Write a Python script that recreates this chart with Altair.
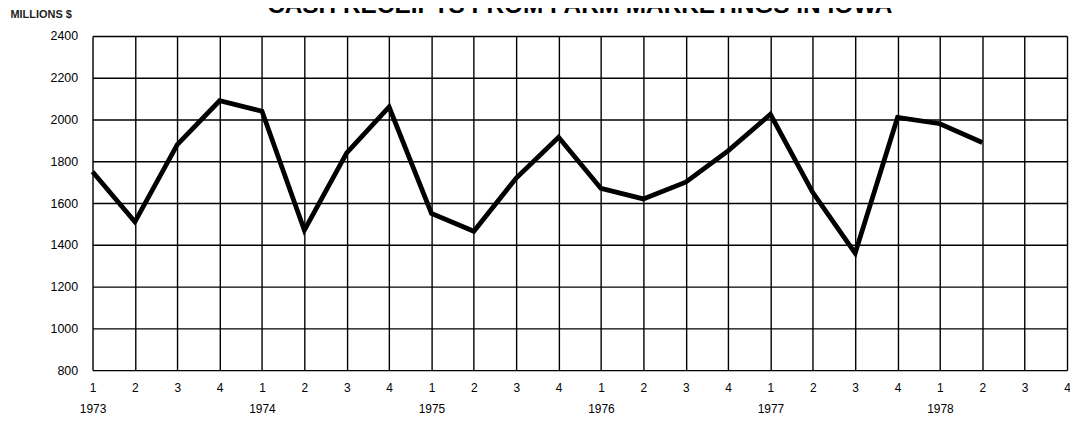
import json
import altair as alt
import pandas as pd

# Quarterly cash receipts (millions $), 1973 Q1 .. 1978 Q2
values = [1750, 1510, 1880, 2090,
          2040, 1470, 1840, 2060,
          1550, 1465, 1720, 1915,
          1670, 1620, 1700, 1850,
          2025, 1650, 1360, 2010,
          1980, 1890]
quarters = ["1", "2", "3", "4"] * 6
years = ["1973", "1974", "1975", "1976", "1977", "1978"]
y_ticks = [800, 1000, 1200, 1400, 1600, 1800, 2000, 2200, 2400]

df = pd.DataFrame({"idx": list(range(len(values))), "value": values})

xlabels = []
for i, q in enumerate(quarters):
    if i % 4 == 0:
        xlabels.append([q, years[i // 4]])
    else:
        xlabels.append(q)
label_expr = json.dumps(xlabels).replace('"', "'") + "[datum.value]"

FONT = "Liberation Sans"

chart = alt.Chart(df).mark_line(
    color="black", strokeWidth=4.8, strokeJoin="miter"
).encode(
    x=alt.X("idx:Q",
            scale=alt.Scale(domain=[0, len(quarters) - 1], nice=False, zero=False),
            axis=alt.Axis(values=list(range(len(quarters))), labelExpr=label_expr,
                          title=None, ticks=False, domain=False,
                          grid=True, gridColor="black", gridWidth=1.4, gridOpacity=1,
                          labelFont=FONT, labelFontSize=12, labelColor="black",
                          labelPadding=13, labelLineHeight=21, labelFlush=False,
                          labelOverlap=False)),
    y=alt.Y("value:Q",
            scale=alt.Scale(domain=[800, 2400], nice=False, zero=False),
            axis=alt.Axis(values=y_ticks, format="d", title="MILLIONS $", titleAngle=0,
                          titleX=-83, titleY=-22, titleAlign="left",
                          titleBaseline="middle", titleFont=FONT, titleFontSize=11,
                          titleFontWeight="bold", titleColor="#222222",
                          ticks=False, domain=False,
                          grid=True, gridColor="black", gridWidth=1.4, gridOpacity=1,
                          labelFont=FONT, labelFontSize=12.5, labelColor="black",
                          labelPadding=15))
).properties(
    width=980,
    height=336,
    title=alt.TitleParams("CASH RECEIPTS FROM FARM MARKETINGS IN IOWA",
                          font=FONT, fontSize=24.5, fontWeight="bold",
                          color="black", anchor="middle", offset=-10.5),
    autosize=alt.AutoSizeParams(type="none"),
    padding={"left": 85, "top": 27, "right": 3, "bottom": 48},
).configure_view(
    stroke="black", strokeWidth=3
).configure(background="white")

chart.save("out.html", embed_options={"renderer": "svg", "actions": False})
